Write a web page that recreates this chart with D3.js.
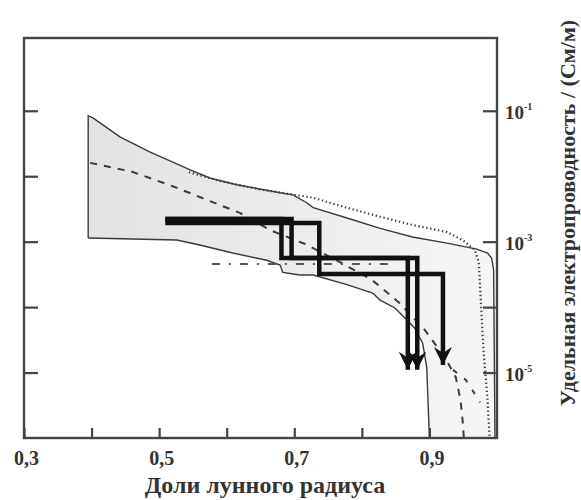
<!DOCTYPE html>
<html>
<head>
<meta charset="utf-8">
<script src="https://cdn.jsdelivr.net/npm/d3@7"></script>
<style>
  html, body { margin: 0; padding: 0; background: #fff; }
  svg { display: block; }
  text { font-family: "Liberation Serif", "DejaVu Serif", serif; font-weight: bold; fill: #333; }
</style>
</head>
<body>
<svg id="chart" width="581" height="500"></svg>
<script>
// ---------- data (fraction of lunar radius, conductivity S/m) ----------
const xTickValues = [0.3, 0.4, 0.5, 0.6, 0.7, 0.8, 0.9];
const xTickLabels = ["0,3", "", "0,5", "", "0,7", "", "0,9"];
const yTickValues = [1e-1, 1e-2, 1e-3, 1e-4, 1e-5];
const yTickLabels = ["-1", "", "-3", "", "-5"];
const xTitle = "Доли лунного радиуса";
const yTitle = "Удельная электропроводность  /  (См/м)";

const bandUpper = [
  [0.395, 8.4e-2], [0.402, 7.8e-2], [0.442, 4.0e-2], [0.486, 2.36e-2], [0.546, 1.25e-2],
  [0.575, 9.4e-3], [0.615, 7.4e-3], [0.679, 5.6e-3], [0.698, 5.2e-3], [0.719, 3.9e-3],
  [0.728, 3.3e-3], [0.778, 2.3e-3], [0.827, 1.6e-3], [0.875, 1.18e-3], [0.926, 9.5e-4],
  [0.970, 7.7e-4], [0.986, 6.7e-4], [0.992, 5.6e-4], [0.995, 3.7e-4], [0.997, 1e-6]
];
const bandLower = [
  [0.395, 1.14e-3], [0.526, 1.06e-3], [0.560, 8.9e-4], [0.609, 6.7e-4], [0.659, 5.2e-4],
  [0.679, 4.4e-4], [0.683, 3.4e-4], [0.708, 3.1e-4], [0.728, 3.1e-4], [0.778, 2.2e-4],
  [0.816, 1.64e-4], [0.827, 1.28e-4], [0.849, 9.7e-5], [0.867, 6.3e-5], [0.878, 4.8e-5],
  [0.890, 2.8e-5], [0.896, 1.2e-5], [0.900, 1e-6]
];
const dashedModel = [
  [0.398, 1.6e-2], [0.460, 1.17e-2], [0.519, 7.1e-3], [0.572, 4.3e-3], [0.6195, 2.75e-3],
  [0.664, 1.5e-3], [0.716, 9.2e-4], [0.767, 4.9e-4], [0.815, 2.6e-4], [0.856, 1.15e-4],
  [0.893, 4.5e-5], [0.923, 1.7e-5], [0.939, 8.5e-6], [0.946, 3.8e-6], [0.949, 1.9e-6], [0.951, 1e-6]
];
const dashedBranch = [[0.935, 1.1e-5], [0.954, 7.7e-6], [0.975, 3.5e-6]];
const dottedModel = [
  [0.544, 1.15e-2], [0.593, 8.3e-3], [0.649, 6.3e-3], [0.7275, 4.7e-3], [0.778, 3.3e-3],
  [0.827, 2.4e-3], [0.875, 1.8e-3], [0.926, 1.4e-3], [0.949, 1.06e-3], [0.967, 7.5e-4],
  [0.973, 4.9e-4], [0.976, 1.28e-4], [0.980, 2.2e-5], [0.986, 3.8e-6], [0.989, 1.06e-6]
];
const dashDotModel = [[0.578, 4.56e-4], [0.841, 4.56e-4]];
const stepA = [[0.509, 2.22e-3], [0.681, 2.22e-3], [0.681, 5.64e-4], [0.868, 5.64e-4], [0.868, 1.1e-5]];
const stepB = [[0.509, 2.22e-3], [0.696, 2.22e-3], [0.696, 5.64e-4], [0.882, 5.64e-4], [0.882, 1.1e-5]];
const stepC = [[0.509, 1.93e-3], [0.737, 1.93e-3], [0.737, 3.21e-4], [0.920, 3.21e-4], [0.920, 1.3e-5]];

// ---------- layout ----------
const svg = d3.select("#chart");
const L = 24, R = 497, T = 38, B = 438;
const x = d3.scaleLinear().domain([0.3, 1.0]).range([L, R]);
const y = d3.scaleLog().domain([1e-6, Math.pow(10, 0.112)]).range([B, T]);

const defs = svg.append("defs");
const grad = defs.append("linearGradient").attr("id", "bandGrad")
  .attr("gradientUnits", "userSpaceOnUse")
  .attr("x1", x(0.39)).attr("x2", x(1.0)).attr("y1", 0).attr("y2", 0);
grad.append("stop").attr("offset", "0%").attr("stop-color", "#e2e2e2");
grad.append("stop").attr("offset", "100%").attr("stop-color", "#f6f6f6");

defs.append("marker").attr("id", "arrow")
  .attr("markerUnits", "userSpaceOnUse")
  .attr("viewBox", "-22 -12 24 24")
  .attr("refX", 0).attr("refY", 0)
  .attr("markerWidth", 24).attr("markerHeight", 24)
  .attr("orient", "auto")
  .append("path").attr("d", "M-18,-9 L0,0 L-18,9 L-12,0 Z").attr("fill", "#111");

const line = d3.line().x(d => x(d[0])).y(d => y(d[1]));

// band
const bandPoly = bandUpper.concat(bandLower.slice().reverse());
svg.append("path").attr("d", line(bandPoly) + "Z")
  .attr("fill", "url(#bandGrad)").attr("stroke", "none");
svg.append("path").attr("d", line([bandLower[0]].concat(bandUpper)))
  .attr("fill", "none").attr("stroke", "#3a3a3a").attr("stroke-width", 1.4);
svg.append("path").attr("d", line(bandLower))
  .attr("fill", "none").attr("stroke", "#3a3a3a").attr("stroke-width", 1.4);

// models
svg.append("path").attr("d", line(dottedModel)).attr("fill", "none")
  .attr("stroke", "#444").attr("stroke-width", 2.2).attr("stroke-dasharray", "1.4,2.6");
svg.append("path").attr("d", line(dashedModel)).attr("fill", "none")
  .attr("stroke", "#3a3a3a").attr("stroke-width", 2).attr("stroke-dasharray", "7,7");
svg.append("path").attr("d", line(dashedBranch)).attr("fill", "none")
  .attr("stroke", "#3a3a3a").attr("stroke-width", 2).attr("stroke-dasharray", "5,9");
svg.append("path").attr("d", line(dashDotModel)).attr("fill", "none")
  .attr("stroke", "#555").attr("stroke-width", 2).attr("stroke-dasharray", "8,9,2,9");

[stepA, stepB, stepC].forEach(s => {
  svg.append("path").attr("d", line(s)).attr("fill", "none")
    .attr("stroke", "#111").attr("stroke-width", 4.5)
    .attr("stroke-linejoin", "miter").attr("marker-end", "url(#arrow)");
});

// frame & axes
svg.append("rect").attr("x", L).attr("y", T).attr("width", R - L).attr("height", B - T)
  .attr("fill", "none").attr("stroke", "#444").attr("stroke-width", 2.4);

const ax = svg.append("g").attr("transform", `translate(0,${B})`)
  .call(d3.axisBottom(x).tickValues(xTickValues).tickSize(-10).tickPadding(13)
    .tickFormat((d, i) => xTickLabels[i]));
ax.select(".domain").remove();
ax.selectAll("line").attr("stroke", "#444").attr("stroke-width", 2.2);
ax.selectAll("text").style("font-size", "20px").attr("fill", "#333").attr("dx", 2);

const ayL = svg.append("g").attr("transform", `translate(${L},0)`)
  .call(d3.axisLeft(y).tickValues(yTickValues).tickSize(-14).tickFormat(""));
ayL.select(".domain").remove();
ayL.selectAll("line").attr("stroke", "#444").attr("stroke-width", 2.2);

const ayR = svg.append("g").attr("transform", `translate(${R},0)`)
  .call(d3.axisRight(y).tickValues(yTickValues).tickSize(-14).tickPadding(8).tickFormat(""));
ayR.select(".domain").remove();
ayR.selectAll("line").attr("stroke", "#444").attr("stroke-width", 2.2);
ayR.selectAll("text").each(function (d, i) {
  const t = d3.select(this);
  if (!yTickLabels[i]) return;
  t.style("font-size", "19px").attr("fill", "#333").attr("dy", "0.4em");
  t.append("tspan").text("10");
  t.append("tspan").text(yTickLabels[i]).style("font-size", "10px").attr("dy", "-0.9em");
});

// titles
svg.append("text").attr("x", 265).attr("y", 493).attr("text-anchor", "middle")
  .style("font-size", "24px").text(xTitle);
svg.append("text").attr("transform", "translate(575,213) rotate(-90)")
  .attr("text-anchor", "middle").style("font-size", "22px").text(yTitle);
</script>
</body>
</html>
